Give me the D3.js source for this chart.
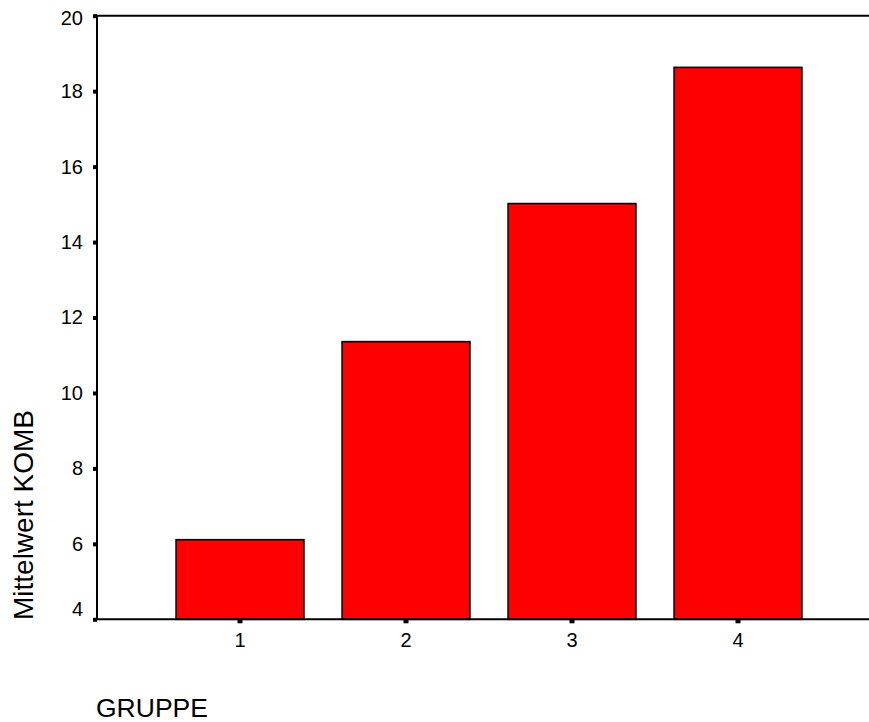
<!DOCTYPE html>
<html>
<head>
<meta charset="utf-8">
<script src="https://cdn.jsdelivr.net/npm/d3@7"></script>
<style>
  html, body { margin: 0; padding: 0; background: #fff; }
  svg { display: block; font-family: Arial, "Liberation Sans", sans-serif; }
</style>
</head>
<body>
<svg id="chart" width="869" height="722"></svg>
<script>
// Data
const categories = ["1", "2", "3", "4"];
const values = [6.11, 11.36, 15.02, 18.63];
const yTicks = [4, 6, 8, 10, 12, 14, 16, 18, 20];
const yTitle = "Mittelwert KOMB";
const xTitle = "GRUPPE";

(function () {
const svg = d3.select("#chart");
const plotLeft = 97, plotRight = 869, plotTop = 15.7, plotBottom = 619.3;

const y = d3.scaleLinear().domain([4, 20]).range([plotBottom, plotTop]);
const x = d3.scaleBand().domain(categories).range([157, 821])
  .paddingInner(0.23).paddingOuter(0.115);

// Bars
svg.append("g").selectAll("rect").data(values).enter().append("rect")
  .attr("x", (d, i) => x(categories[i]))
  .attr("y", d => y(d))
  .attr("width", x.bandwidth())
  .attr("height", d => y(4) - y(d))
  .attr("fill", "#ff0000")
  .attr("stroke", "#000")
  .attr("stroke-width", 1.6);

// Top frame line
svg.append("line")
  .attr("x1", plotLeft).attr("x2", plotRight)
  .attr("y1", y(20)).attr("y2", y(20))
  .attr("stroke", "#000").attr("stroke-width", 2);

// Y axis
const yAxis = svg.append("g").attr("transform", `translate(${plotLeft},0)`)
  .call(d3.axisLeft(y).tickValues(yTicks).tickSize(4).tickPadding(10).tickFormat(d3.format("d")));
yAxis.select(".domain").attr("stroke", "#000").attr("stroke-width", 2)
  .attr("d", `M0,${y(4)}V${y(20)}`);
yAxis.selectAll(".tick line").attr("stroke", "#000").attr("stroke-width", 4);
yAxis.selectAll(".tick text")
  .attr("font-size", 20).attr("fill", "#000")
  .attr("font-family", "Arial, 'Liberation Sans', sans-serif")
  .attr("dy", d => d === 4 ? "-0.18em" : (d === 20 ? "0.45em" : "0.32em"));

// X axis
const xAxis = svg.append("g").attr("transform", `translate(0,${plotBottom})`)
  .call(d3.axisBottom(x).tickSize(4).tickPadding(10));
xAxis.select(".domain").attr("stroke", "#000").attr("stroke-width", 2)
  .attr("d", `M${plotLeft},0H${plotRight}`);
xAxis.selectAll(".tick line").attr("stroke", "#000").attr("stroke-width", 5);
xAxis.selectAll(".tick text")
  .attr("font-size", 20).attr("fill", "#000")
  .attr("font-family", "Arial, 'Liberation Sans', sans-serif");

// Titles
svg.append("text")
  .attr("transform", "translate(33,620) rotate(-90)")
  .attr("text-anchor", "start")
  .attr("font-size", 28)
  .attr("fill", "#000")
  .text(yTitle);

svg.append("text")
  .attr("x", 96).attr("y", 717)
  .attr("font-size", 26.5)
  .attr("fill", "#000")
  .text(xTitle);
})();
</script>
</body>
</html>
